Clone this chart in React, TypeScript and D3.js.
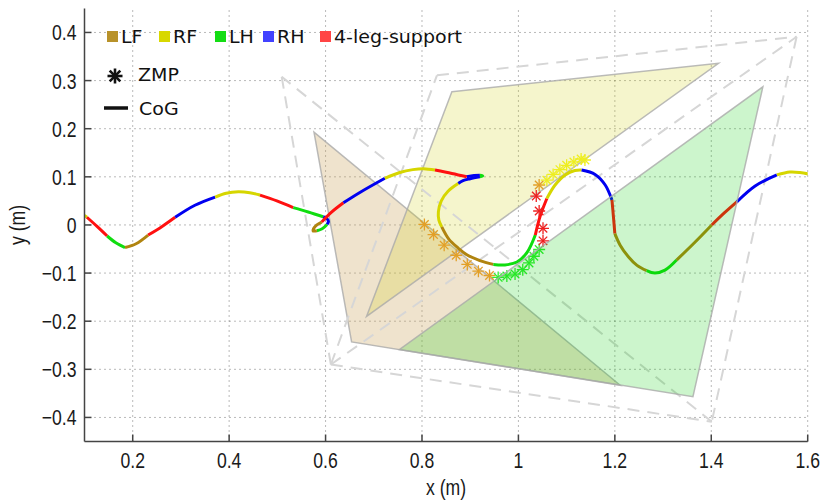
import * as d3 from "d3";

// support triangles (x, y in metres)
const lfSupport: [number, number][] = [[0.576, 0.193], [0.654, -0.243], [1.211, -0.333]];
const rfSupport: [number, number][] = [[0.862, 0.277], [1.415, 0.336], [0.685, -0.19]];
const lhSupport: [number, number][] = [[0.753, -0.259], [1.507, 0.287], [1.362, -0.357]];

// upcoming support triangles, dashed
const nextSupports: [number, number][][] = [
  [[0.509, 0.308], [0.611, -0.29], [1.401, -0.409]],
  [[0.611, -0.29], [1.577, 0.391], [1.401, -0.409]],
  [[0.831, 0.311], [1.577, 0.391], [0.611, -0.29]],
];

// CoG trajectory, split by gait phase
const cogSegments: [string, [number, number][]][] = [
  ["RF", [[0.1, 0.02], [0.105, 0.016]]],
  ["4L", [[0.105, 0.016], [0.126, -0.003], [0.147, -0.023]]],
  ["LH", [[0.147, -0.023], [0.165, -0.037], [0.184, -0.047]]],
  ["LF", [[0.184, -0.047], [0.207, -0.039], [0.232, -0.021]]],
  ["4L", [[0.232, -0.021], [0.261, -0.003], [0.288, 0.016]]],
  ["RH", [[0.288, 0.016], [0.329, 0.041], [0.371, 0.058]]],
  ["RF", [[0.371, 0.058], [0.394, 0.066], [0.419, 0.069], [0.443, 0.067], [0.464, 0.062]]],
  ["4L", [[0.464, 0.062], [0.499, 0.05], [0.533, 0.036]]],
  ["LH", [[0.533, 0.036], [0.564, 0.027], [0.595, 0.017]]],
  ["RH", [[0.595, 0.017], [0.603, 0.013], [0.606, 0.007], [0.603, 0.001]]],
  ["LH", [[0.603, 0.001], [0.593, -0.008], [0.582, -0.012]]],
  ["LF", [[0.582, -0.012], [0.574, -0.0125], [0.575, -0.008], [0.582, 0.0], [0.592, 0.006]]],
  ["4L", [[0.592, 0.006], [0.613, 0.027], [0.637, 0.046]]],
  ["RH", [[0.637, 0.046], [0.672, 0.068], [0.723, 0.097]]],
  ["RF", [[0.723, 0.097], [0.754, 0.109], [0.781, 0.115], [0.803, 0.117], [0.827, 0.114]]],
  ["4L", [[0.827, 0.114], [0.862, 0.107], [0.893, 0.1]]],
  ["RH", [[0.893, 0.1], [0.908, 0.103], [0.92, 0.1035]]],
  ["LH", [[0.92, 0.1035], [0.926, 0.102], [0.92, 0.1]]],
  ["RH", [[0.92, 0.1], [0.9, 0.096], [0.885, 0.092], [0.875, 0.086]]],
  ["RF", [[0.875, 0.086], [0.854, 0.07], [0.84, 0.05], [0.834, 0.027], [0.835, 0.01], [0.841, -0.004]]],
  ["LF", [[0.841, -0.004], [0.856, -0.03], [0.875, -0.048], [0.893, -0.062], [0.92, -0.074], [0.948, -0.082]]],
  ["LH", [[0.948, -0.082], [0.972, -0.083], [0.997, -0.077], [1.018, -0.057], [1.035, -0.021]]],
  ["4L", [[1.035, -0.021], [1.045, 0.018], [1.059, 0.055]]],
  ["RF", [[1.059, 0.055], [1.076, 0.083], [1.097, 0.104], [1.117, 0.113], [1.131, 0.114]]],
  ["RH", [[1.131, 0.114], [1.159, 0.105], [1.18, 0.083], [1.194, 0.052]]],
  ["4L", [[1.194, 0.052], [1.197, 0.018], [1.2, -0.018]]],
  ["LF", [[1.2, -0.018], [1.211, -0.042], [1.228, -0.066], [1.246, -0.084], [1.266, -0.095]]],
  ["LH", [[1.266, -0.095], [1.283, -0.1], [1.304, -0.094], [1.328, -0.073]]],
  ["LF", [[1.328, -0.073], [1.364, -0.038], [1.401, 0.0]]],
  ["4L", [[1.401, 0.0], [1.427, 0.025], [1.453, 0.048]]],
  ["RH", [[1.453, 0.048], [1.491, 0.081], [1.536, 0.104]]],
  ["RF", [[1.536, 0.104], [1.563, 0.11], [1.584, 0.109], [1.601, 0.106]]],
];

// ZMP samples: phase, x, y
const zmpPoints: [string, number, number][] = [
  ["LF", 0.805, 0.001], ["LF", 0.824, -0.02], ["LF", 0.846, -0.042], ["LF", 0.871, -0.063],
  ["LF", 0.894, -0.082], ["LF", 0.917, -0.096], ["LF", 0.94, -0.105],
  ["LH", 0.958, -0.109], ["LH", 0.976, -0.106], ["LH", 0.993, -0.102], ["LH", 1.009, -0.093],
  ["LH", 1.022, -0.079], ["LH", 1.032, -0.065], ["LH", 1.043, -0.051],
  ["4L", 1.051, -0.033], ["4L", 1.051, -0.007], ["4L", 1.043, 0.029], ["4L", 1.037, 0.06],
  ["LF", 1.043, 0.083],
  ["RF", 1.059, 0.093], ["RF", 1.072, 0.105], ["RF", 1.086, 0.115], ["RF", 1.1, 0.124],
  ["RF", 1.115, 0.131], ["RF", 1.13, 0.137], ["RF", 1.138, 0.135],
];

const phaseKeys = ["LF", "RF", "LH", "RH", "4L"];
const phaseLabels = ["LF", "RF", "LH", "RH", "4-leg-support"];
const xTicks = [0.2, 0.4, 0.6, 0.8, 1, 1.2, 1.4, 1.6];
const yTicks = [-0.4, -0.3, -0.2, -0.1, 0, 0.1, 0.2, 0.3, 0.4];

const curveColor: Record<string, string> = {
  LF: "#b08410", RF: "#d6d600", LH: "#10dd10", RH: "#0000f0", "4L": "#ff1010",
};
const zmpColor: Record<string, string> = {
  LF: "#e2a028", RF: "#eeee20", LH: "#30ee30", RH: "#3030ff", "4L": "#ee2020",
};
const legendColor: Record<string, string> = {
  LF: "#b8922a", RF: "#d8d800", LH: "#14dd14", RH: "#4242ff", "4L": "#ff4444",
};
const legendX = [107, 159, 215, 263, 320];

const W = 835;
const H = 502;
const x = d3.scaleLinear().domain([0.1, 1.6]).range([84.5, 807.7]);
const y = d3.scaleLinear().domain([-0.45, 0.45]).range([441.5, 8.4]);

const poly = (pts: [number, number][]) =>
  pts.map(([a, b]) => `${x(a)},${y(b)}`).join(" ");

// shared triangle edges are drawn once so the dashes stay clean
const dashedEdges: [[number, number], [number, number]][] = [];
{
  const seen = new Set<string>();
  nextSupports.forEach((tri) => {
    tri.forEach((p, i) => {
      const q = tri[(i + 1) % tri.length];
      const key = [p.join(","), q.join(",")].sort().join("|");
      if (!seen.has(key)) {
        seen.add(key);
        dashedEdges.push([p, q]);
      }
    });
  });
}

const cogLine = d3
  .line<[number, number]>()
  .x((d) => x(d[0]))
  .y((d) => y(d[1]))
  .curve(d3.curveCatmullRom.alpha(0.5));

function Asterisk({ cx, cy, r, color, w }: { cx: number; cy: number; r: number; color: string; w: number }) {
  const d = r * Math.SQRT1_2;
  return (
    <g stroke={color} strokeWidth={w} strokeLinecap="butt">
      <line x1={cx - r} y1={cy} x2={cx + r} y2={cy} />
      <line x1={cx} y1={cy - r} x2={cx} y2={cy + r} />
      <line x1={cx - d} y1={cy - d} x2={cx + d} y2={cy + d} />
      <line x1={cx - d} y1={cy + d} x2={cx + d} y2={cy - d} />
    </g>
  );
}

export default function App() {
  const tickFont = "'Liberation Sans', Arial, sans-serif";
  const legendFont = "'DejaVu Sans', sans-serif";
  const [x0, x1] = x.range();
  const [yb, yt] = y.range();

  return (
    <svg
      width={W}
      height={H}
      style={{ position: "absolute", left: 0, top: 0, background: "#fff" }}
    >
      <defs>
        <clipPath id="plotArea">
          <rect x={x0} y={yt} width={x1 - x0} height={yb - yt} />
        </clipPath>
      </defs>

      {/* dotted grid */}
      <g stroke="#000" strokeOpacity={0.55} strokeWidth={1} strokeDasharray="1 4">
        {xTicks.map((t) => (
          <line key={"gx" + t} x1={x(t)} x2={x(t)} y1={yb} y2={yt} />
        ))}
        {yTicks.map((t) => (
          <line key={"gy" + t} x1={x0} x2={x1} y1={y(t)} y2={y(t)} />
        ))}
      </g>

      <g clipPath="url(#plotArea)">
        <polygon points={poly(lfSupport)} fill="#c9a25a" fillOpacity={0.3} stroke="#aaa" strokeOpacity={0.8} strokeWidth={1.5} />
        <polygon points={poly(rfSupport)} fill="#cccc00" fillOpacity={0.2} stroke="#aaa" strokeOpacity={0.8} strokeWidth={1.5} />

        <g stroke="#d6d6d6" strokeWidth={2} strokeDasharray="12 8">
          {dashedEdges.map(([p, q], i) => (
            <line key={"ns" + i} x1={x(p[0])} y1={y(p[1])} x2={x(q[0])} y2={y(q[1])} />
          ))}
        </g>

        {cogSegments.map(([ph, pts], i) => (
          <path
            key={"cog" + i}
            d={cogLine(pts) ?? ""}
            fill="none"
            stroke={curveColor[ph]}
            strokeWidth={3}
            strokeLinecap="butt"
            strokeLinejoin="round"
          />
        ))}

        {zmpPoints.map(([ph, a, b], i) => (
          <Asterisk key={"z" + i} cx={x(a)} cy={y(b)} r={6} color={zmpColor[ph]} w={1.3} />
        ))}

        <polygon points={poly(lhSupport)} fill="#00cc00" fillOpacity={0.2} stroke="#aaa" strokeOpacity={0.8} strokeWidth={1.5} />
      </g>

      {/* axes */}
      <g stroke="#444" strokeWidth={1.5} fill="none">
        <line x1={x0} x2={x0} y1={yb} y2={yt} />
        <line x1={x0} x2={x1} y1={yb} y2={yb} />
        {xTicks.map((t) => (
          <line key={"tx" + t} x1={x(t)} x2={x(t)} y1={yb} y2={yb - 7} />
        ))}
        {yTicks.map((t) => (
          <line key={"ty" + t} x1={x0} x2={x0 + 7} y1={y(t)} y2={y(t)} />
        ))}
      </g>

      <g fontFamily={tickFont} fontSize={22} fill="#1a1a1a">
        {xTicks.map((t) => (
          <text key={"lx" + t} transform={`translate(${x(t)},${468}) scale(0.8,1)`} textAnchor="middle">
            {d3.format("~g")(t)}
          </text>
        ))}
        {yTicks.map((t) => (
          <text key={"ly" + t} transform={`translate(${x0 - 8},${y(t) + 8}) scale(0.8,1)`} textAnchor="end">
            {t < 0 ? "\u2212" + d3.format("~g")(-t) : d3.format("~g")(t)}
          </text>
        ))}
        <text transform={`translate(${(x0 + x1) / 2},${495}) scale(0.8,1)`} textAnchor="middle">
          x (m)
        </text>
        <text transform={`translate(${25},${(yb + yt) / 2}) rotate(-90) scale(0.8,1)`} textAnchor="middle">
          y (m)
        </text>
      </g>

      {/* legend */}
      <g fontFamily={legendFont} fontSize={17} fill="#111">
        {phaseKeys.map((k, i) => (
          <g key={"lg" + k}>
            <rect x={legendX[i]} y={31} width={11} height={11} fill={legendColor[k]} />
            <text transform={`translate(${legendX[i] + 14},${42.5}) scale(1.12,1)`}>{phaseLabels[i]}</text>
          </g>
        ))}
        <Asterisk cx={115} cy={76} r={7.5} color="#111" w={2.6} />
        <text transform={`translate(${138},${81}) scale(1.12,1)`}>ZMP</text>
        <line x1={104} x2={128} y1={108} y2={108} stroke="#111" strokeWidth={3.5} />
        <text transform={`translate(${139},${115}) scale(1.12,1)`}>CoG</text>
      </g>
    </svg>
  );
}
